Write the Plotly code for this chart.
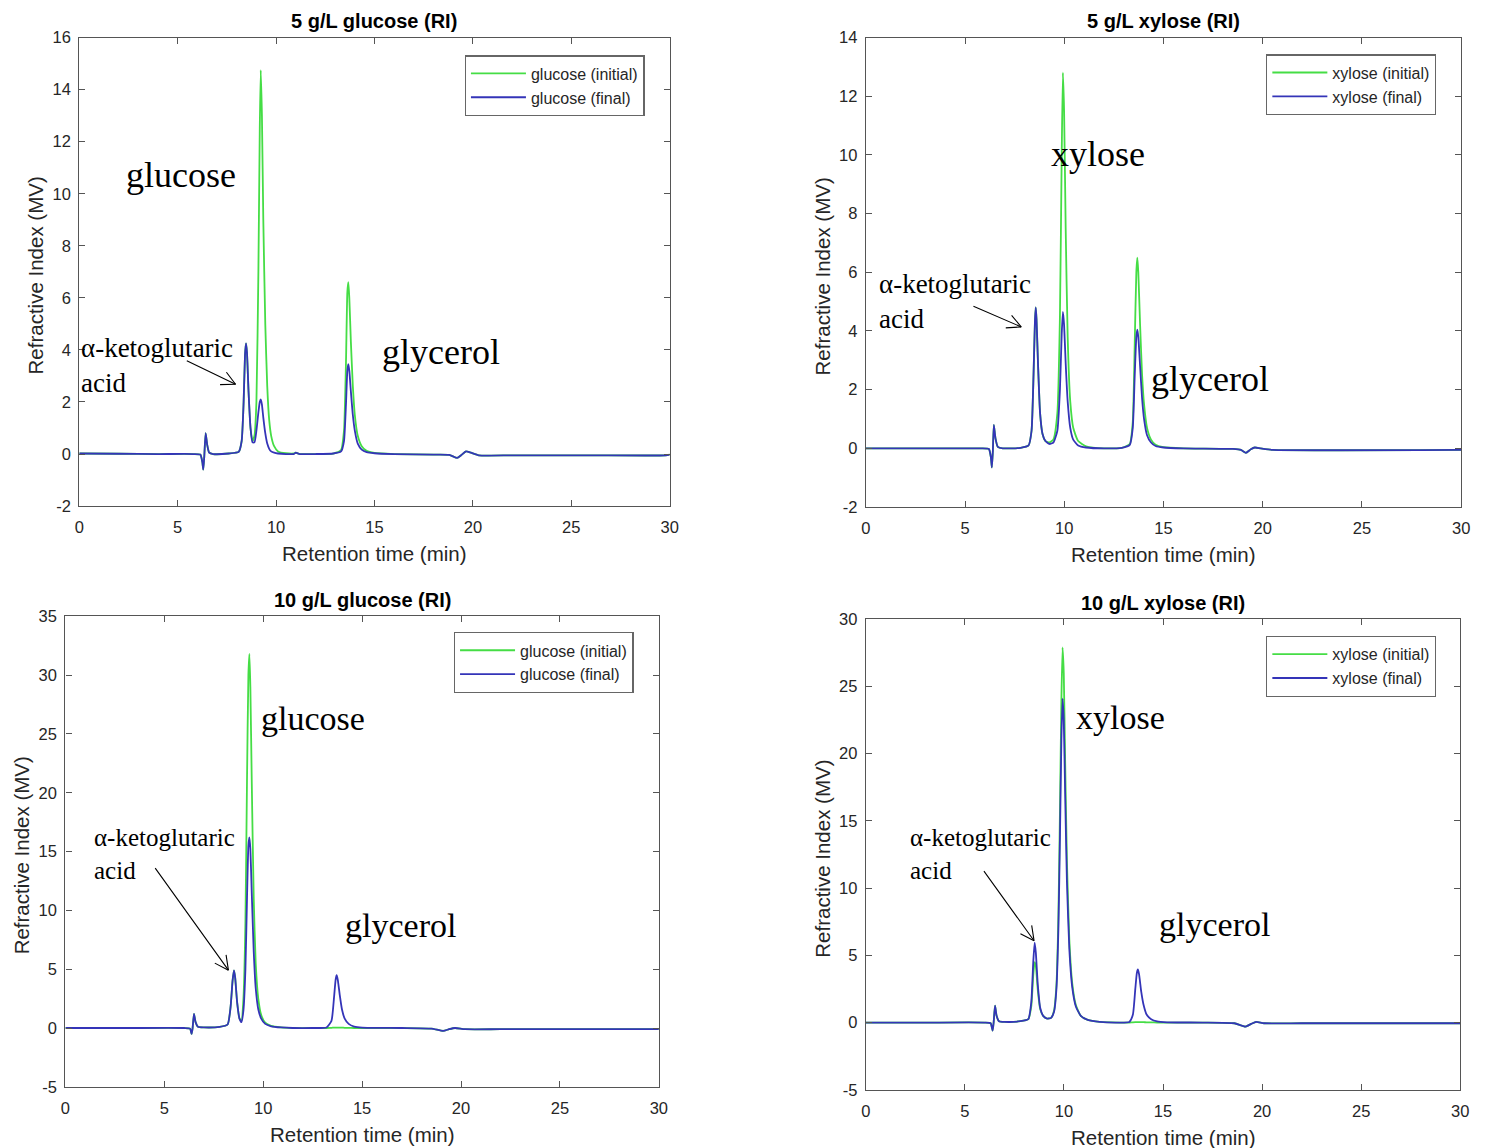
import math
import plotly.graph_objects as go

# ---------------------------------------------------------------
# HPLC refractive-index traces (retention time in min, signal in MV)
# ---------------------------------------------------------------

# 5 g/L glucose
t_glc5 = [0.0, 2.0, 4.0, 5.8, 6.15, 6.25, 6.3, 6.35, 6.42, 6.5, 6.6, 6.8,
          7.6, 8.1, 8.25, 8.35, 8.42, 8.47, 8.52, 8.6, 8.7, 8.8,
          8.9, 9.0, 9.1, 9.17, 9.22, 9.28, 9.35, 9.45, 9.55, 9.65, 9.75, 9.9,
          10.1, 10.5, 10.9, 11.0, 11.2, 12.0, 12.9,
          13.3, 13.45, 13.55, 13.62, 13.67, 13.72, 13.8, 13.9, 14.0, 14.15, 14.35, 14.6, 15.0,
          16.0, 18.0, 18.8, 19.2, 19.4, 19.65, 19.9, 20.3, 22.0, 26.0, 29.8, 30.0]
ri_glc5_initial = [0.02, 0.01, 0.0, 0.0, -0.02, -0.3, -0.6, -0.1, 0.8, 0.35, 0.05, 0.0,
                   0.02, 0.08, 0.5, 2.0, 3.8, 4.25, 3.9, 2.4, 1.0, 0.5,
                   0.7, 2.0, 7.0, 12.5, 14.75, 13.0, 9.0, 5.0, 2.6, 1.3, 0.7, 0.3,
                   0.1, 0.03, 0.02, 0.05, 0.0, 0.0, 0.02,
                   0.15, 0.9, 3.5, 6.2, 6.6, 6.0, 4.3, 2.6, 1.5, 0.7, 0.3, 0.12, 0.04,
                   0.0, -0.02, -0.03, -0.15, -0.05, 0.1, 0.05, -0.05, -0.05, -0.05, -0.05, -0.02]
ri_glc5_final = [0.02, 0.01, 0.0, 0.0, -0.02, -0.3, -0.6, -0.1, 0.8, 0.35, 0.05, 0.0,
                 0.02, 0.08, 0.5, 2.0, 3.8, 4.25, 3.9, 2.4, 1.0, 0.45,
                 0.45, 0.9, 1.6, 2.0, 2.1, 1.9, 1.4, 0.8, 0.4, 0.2, 0.1, 0.05,
                 0.02, 0.0, 0.0, 0.05, 0.0, 0.0, 0.02,
                 0.1, 0.5, 1.9, 3.2, 3.45, 3.2, 2.4, 1.5, 0.9, 0.4, 0.17, 0.07, 0.03,
                 0.0, -0.02, -0.03, -0.15, -0.05, 0.1, 0.05, -0.05, -0.05, -0.05, -0.05, -0.02]

# 5 g/L xylose
t_xyl5 = [0.0, 3.0, 5.8, 6.2, 6.3, 6.35, 6.4, 6.45, 6.53, 6.65, 6.9,
          7.8, 8.2, 8.35, 8.45, 8.52, 8.56, 8.6, 8.68, 8.78, 8.9, 9.05,
          9.25, 9.45, 9.65, 9.78, 9.87, 9.93, 9.99, 10.07, 10.17, 10.3, 10.45, 10.7, 11.1,
          12.0, 12.9, 13.3, 13.45, 13.55, 13.63, 13.68, 13.73, 13.82, 13.92, 14.02, 14.17, 14.37, 14.6, 15.0,
          16.0, 18.5, 18.9, 19.15, 19.4, 19.6, 19.9, 20.5, 30.0]
ri_xyl5_initial = [0.0, 0.0, 0.0, -0.02, -0.3, -0.65, -0.1, 0.8, 0.35, 0.05, 0.0,
                   0.02, 0.1, 0.6, 2.5, 4.3, 4.8, 4.4, 2.8, 1.2, 0.5, 0.25,
                   0.2, 0.3, 1.2, 4.5, 10.0, 12.8, 11.5, 7.5, 3.8, 1.6, 0.7, 0.25, 0.07,
                   0.0, 0.02, 0.15, 0.9, 3.6, 6.0, 6.5, 6.0, 4.2, 2.5, 1.5, 0.7, 0.3, 0.12, 0.04,
                   0.0, -0.02, -0.05, -0.15, -0.03, 0.03, 0.0, -0.05, -0.05]
ri_xyl5_final = [0.0, 0.0, 0.0, -0.02, -0.3, -0.65, -0.1, 0.8, 0.35, 0.05, 0.0,
                 0.02, 0.1, 0.6, 2.5, 4.3, 4.8, 4.4, 2.8, 1.2, 0.5, 0.25,
                 0.15, 0.2, 0.6, 2.0, 3.9, 4.65, 4.2, 2.9, 1.6, 0.7, 0.3, 0.1, 0.03,
                 0.0, 0.02, 0.12, 0.7, 2.5, 3.8, 4.05, 3.8, 2.8, 1.7, 1.0, 0.45, 0.2, 0.08, 0.03,
                 0.0, -0.02, -0.05, -0.15, -0.03, 0.03, 0.0, -0.05, -0.05]

# 10 g/L glucose
t_glc10 = [0.0, 3.0, 6.0, 6.3, 6.38, 6.43, 6.5, 6.58, 6.7, 7.0,
           7.8, 8.2, 8.35, 8.45, 8.52, 8.58, 8.68, 8.8, 8.9,
           9.0, 9.1, 9.18, 9.25, 9.3, 9.35, 9.42, 9.52, 9.62, 9.75, 9.9, 10.1, 10.4, 10.9, 11.5,
           12.5, 13.2, 13.45, 13.58, 13.66, 13.71, 13.77, 13.87, 13.98, 14.12, 14.32, 14.6, 15.0,
           17.0, 18.5, 19.1, 19.4, 19.7, 20.2, 22.0, 30.0]
ri_glc10_initial = [0.0, 0.0, 0.0, -0.05, -0.5, 0.0, 1.2, 0.5, 0.1, 0.05,
                    0.1, 0.3, 1.8, 4.0, 4.9, 4.3, 2.2, 0.8, 0.6,
                    2.5, 9.0, 21.0, 30.0, 31.8, 29.0, 21.0, 11.0, 5.5, 2.5, 1.1, 0.45, 0.18, 0.05, 0.0,
                    0.0, 0.0, 0.02, 0.03, 0.03, 0.03, 0.03, 0.03, 0.03, 0.02, 0.02, 0.0, 0.0,
                    0.0, -0.05, -0.25, -0.1, 0.0, -0.1, -0.1, -0.1]
ri_glc10_final = [0.0, 0.0, 0.0, -0.05, -0.5, 0.0, 1.2, 0.5, 0.1, 0.05,
                  0.1, 0.3, 1.8, 4.0, 4.9, 4.3, 2.2, 0.8, 0.5,
                  1.5, 5.0, 11.0, 15.5, 16.2, 15.2, 11.5, 6.5, 3.4, 1.6, 0.8, 0.35, 0.15, 0.05, 0.0,
                  0.0, 0.05, 0.6, 2.6, 4.1, 4.5, 4.1, 2.8, 1.6, 0.8, 0.35, 0.12, 0.03,
                  0.0, -0.05, -0.25, -0.1, 0.0, -0.1, -0.1, -0.1]

# 10 g/L xylose
t_xyl10 = [0.0, 3.0, 6.0, 6.3, 6.4, 6.45, 6.52, 6.6, 6.72, 7.0,
           7.8, 8.2, 8.35, 8.45, 8.52, 8.58, 8.68, 8.8, 8.95, 9.15,
           9.35, 9.5, 9.62, 9.72, 9.8, 9.87, 9.93, 9.99, 10.06, 10.15, 10.27, 10.42, 10.6, 10.85, 11.2, 11.8,
           12.8, 13.3, 13.48, 13.6, 13.68, 13.73, 13.79, 13.9, 14.02, 14.17, 14.4, 14.7, 15.2,
           17.0, 18.6, 19.15, 19.45, 19.7, 20.1, 22.0, 30.0]
ri_xyl10_initial = [0.0, 0.0, 0.0, -0.05, -0.6, 0.0, 1.25, 0.5, 0.1, 0.05,
                    0.1, 0.25, 1.2, 3.5, 4.5, 4.2, 2.4, 1.0, 0.5, 0.3,
                    0.35, 0.9, 2.8, 8.0, 16.0, 24.0, 27.9, 26.0, 19.5, 12.0, 6.2, 2.9, 1.3, 0.5, 0.2, 0.05,
                    0.0, 0.0, 0.02, 0.03, 0.03, 0.03, 0.03, 0.03, 0.03, 0.02, 0.02, 0.0, 0.0,
                    0.0, -0.05, -0.3, -0.1, 0.05, -0.05, -0.05, -0.05]
ri_xyl10_final = [0.0, 0.0, 0.0, -0.05, -0.6, 0.0, 1.25, 0.5, 0.1, 0.05,
                  0.1, 0.25, 1.5, 4.5, 5.95, 5.2, 2.8, 1.1, 0.5, 0.3,
                  0.35, 0.8, 2.5, 7.0, 14.0, 21.0, 24.1, 22.5, 17.0, 10.5, 5.5, 2.6, 1.2, 0.5, 0.2, 0.05,
                  0.0, 0.05, 0.6, 2.5, 3.7, 3.95, 3.6, 2.3, 1.3, 0.6, 0.25, 0.08, 0.02,
                  0.0, -0.05, -0.3, -0.1, 0.05, -0.05, -0.05, -0.05]

titles = ["5 g/L glucose (RI)", "5 g/L xylose (RI)", "10 g/L glucose (RI)", "10 g/L xylose (RI)"]
sugars = ["glucose", "xylose", "glucose", "xylose"]
y_ranges = [[-2, 16], [-2, 14], [-5, 35], [-5, 30]]
y_dticks = [2, 2, 5, 5]
x_ticks = [0, 5, 10, 15, 20, 25, 30]

panels = [
    (t_glc5, ri_glc5_initial, ri_glc5_final),
    (t_xyl5, ri_xyl5_initial, ri_xyl5_final),
    (t_glc10, ri_glc10_initial, ri_glc10_final),
    (t_xyl10, ri_xyl10_initial, ri_xyl10_final),
]
for t, a, b in panels:
    assert len(t) == len(a) == len(b)

W, H = 1491, 1148

# plot-area boxes in layout pixels: (left, right, top, bottom)
boxes = [(75, 671, 29, 505), (869, 1470, 29, 506), (61, 660, 617, 1095), (869, 1469, 620, 1098)]
# legend top-left corners in layout pixels
legend_pos = [(464, 47), (1273, 46), (453, 633), (1273, 637)]

GREEN = "#45dd45"
BLUE = "#3434b8"
AXIS = "#555555"
TXT = "#262626"
SANS = "Arial, Liberation Sans, sans-serif"
SERIF = "Times New Roman, Liberation Serif, serif"


def px(x):
    return x / W


def py(y):
    return 1 - y / H


fig = go.Figure()
layout = dict(width=W, height=H, margin=dict(l=0, r=0, t=0, b=0), autosize=False,
              paper_bgcolor="white", plot_bgcolor="white", annotations=[])

for i, ((t, a, b), box) in enumerate(zip(panels, boxes)):
    n = "" if i == 0 else str(i + 1)
    xa, ya = "x" + n, "y" + n
    leg = "legend" + n
    fig.add_trace(go.Scatter(x=t, y=a, mode="lines", name=f"{sugars[i]} (initial)",
                             line=dict(color=GREEN, width=1.8, shape="spline", smoothing=0.5),
                             xaxis=xa, yaxis=ya, legend=leg))
    fig.add_trace(go.Scatter(x=t, y=b, mode="lines", name=f"{sugars[i]} (final)",
                             line=dict(color=BLUE, width=1.8, shape="spline", smoothing=0.5),
                             xaxis=xa, yaxis=ya, legend=leg))
    l, r, tp, bt = box
    axis_common = dict(showline=True, linecolor=AXIS, linewidth=1.3, mirror="ticks",
                       ticks="inside", ticklen=6, tickcolor=AXIS, tickwidth=1.2,
                       showgrid=False, zeroline=False,
                       tickfont=dict(family=SANS, size=16.5, color=TXT))
    y0, y1 = y_ranges[i]
    yticks = list(range(y0, y1 + 1, y_dticks[i]))
    layout["xaxis" + n] = dict(domain=[px(l), px(r)], range=[0, 30], tickvals=x_ticks,
                               ticktext=[str(v) for v in x_ticks],
                               anchor=ya, ticklabelstandoff=6, **axis_common)
    layout["yaxis" + n] = dict(domain=[py(bt), py(tp)], range=y_ranges[i], tickvals=yticks,
                               ticktext=[str(v) for v in yticks],
                               anchor=xa, ticklabelstandoff=4, **axis_common)
    lx, ly = legend_pos[i]
    layout[leg] = dict(x=px(lx), y=py(ly), xanchor="left", yanchor="top",
                       bgcolor="white", bordercolor="#666666", borderwidth=1.3,
                       itemwidth=55, font=dict(family=SANS, size=16, color=TXT),
                       tracegroupgap=0)
    cx = (l + r) / 2
    # panel title
    layout["annotations"].append(dict(text=f"<b>{titles[i]}</b>", x=px(cx), y=py(tp - 17),
                                      xref="paper", yref="paper", showarrow=False,
                                      font=dict(family=SANS, size=20, color="black"),
                                      xanchor="center", yanchor="middle"))
    # axis titles
    layout["annotations"].append(dict(text="Retention time (min)", x=px(cx), y=py(bt + 48),
                                      xref="paper", yref="paper", showarrow=False,
                                      font=dict(family=SANS, size=20.5, color=TXT),
                                      xanchor="center", yanchor="middle"))
    layout["annotations"].append(dict(text="Refractive Index (MV)", x=px(l - 44), y=py((tp + bt) / 2 + 4),
                                      xref="paper", yref="paper", showarrow=False, textangle=-90,
                                      font=dict(family=SANS, size=20.5, color=TXT),
                                      xanchor="center", yanchor="middle"))

# compound labels: (panel, text, x, y, size)
labels = [
    (0, "glucose", 2.28, 10.73, 36), (0, "glycerol", 15.28, 3.91, 36),
    (0, "α-ketoglutaric<br>acid", 0.0, 3.39, 27),
    (1, "xylose", 9.23, 10.03, 36), (1, "glycerol", 14.25, 2.37, 36),
    (1, "α-ketoglutaric<br>acid", 0.55, 5.02, 27),
    (2, "glucose", 9.8, 26.3, 34), (2, "glycerol", 14.02, 8.74, 34),
    (2, "α-ketoglutaric<br>acid", 1.36, 14.81, 25),
    (3, "xylose", 10.5, 22.73, 34), (3, "glycerol", 14.72, 7.28, 34),
    (3, "α-ketoglutaric<br>acid", 2.11, 12.56, 25),
]
for p, txt, x, y, s in labels:
    n = "" if p == 0 else str(p + 1)
    layout["annotations"].append(dict(text=txt, x=x, y=y, xref="x" + n, yref="y" + n,
                                      showarrow=False, xanchor="left", yanchor="middle",
                                      align="left", font=dict(family=SERIF, size=s, color="black")))

# arrows pointing at the α-ketoglutaric acid peak: (panel, tail x, tail y, head x, head y)
arrows = [(0, 5.41, 3.6, 7.94, 2.68), (1, 5.37, 4.85, 7.83, 4.14),
          (2, 4.52, 13.58, 8.24, 4.92), (3, 5.93, 11.29, 8.49, 6.09)]
HEAD_LEN, HEAD_ANG = 17, math.radians(27)
for p, tx, ty, hx, hy in arrows:
    n = "" if p == 0 else str(p + 1)
    l, r, tp, bt = boxes[p]
    kx = (r - l) / 30.0
    ky = (bt - tp) / (y_ranges[p][1] - y_ranges[p][0])
    # tail offset from the head, in screen pixels (y grows downwards)
    dx, dy = (tx - hx) * kx, -(ty - hy) * ky
    base = dict(x=hx, y=hy, xref="x" + n, yref="y" + n, text="", showarrow=True,
                arrowhead=0, arrowwidth=1.1, arrowcolor="black", standoff=0)
    layout["annotations"].append(dict(base, ax=dx, ay=dy))
    ang = math.atan2(dy, dx)
    for s in (-1, 1):
        a = ang + s * HEAD_ANG
        layout["annotations"].append(dict(base, ax=HEAD_LEN * math.cos(a), ay=HEAD_LEN * math.sin(a)))

fig.update_layout(**layout)
fig.write_html("out.html")
